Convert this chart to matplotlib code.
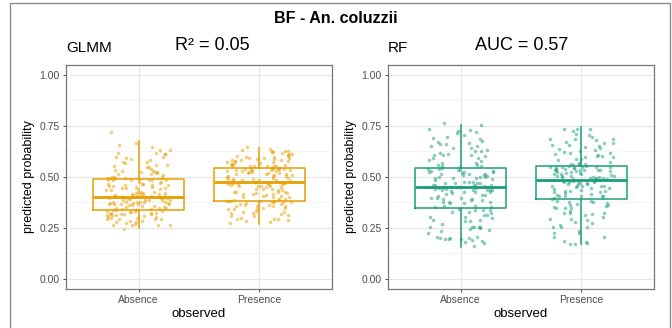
import matplotlib
matplotlib.use("Agg")
import matplotlib.pyplot as plt
from matplotlib.patches import Rectangle
import numpy as np

plt.rcParams["font.family"] = ["Liberation Sans", "DejaVu Sans"]

categories = ["Absence", "Presence"]

# box statistics: whislo, q1, med, q3, whishi
glmm_box = [[0.25, 0.337, 0.40, 0.487, 0.673],
            [0.267, 0.383, 0.474, 0.541, 0.642]]
rf_box = [[0.155, 0.346, 0.448, 0.541, 0.756],
          [0.17, 0.391, 0.486, 0.554, 0.745]]

glmm_absence = [
    0.25, 0.26, 0.26, 0.27, 0.27, 0.27, 0.28, 0.28, 0.28, 0.28,
    0.29, 0.29, 0.29, 0.29, 0.30, 0.30, 0.30, 0.30, 0.30, 0.31,
    0.31, 0.31, 0.31, 0.31, 0.32, 0.32, 0.32, 0.32, 0.32, 0.32,
    0.33, 0.33, 0.33, 0.33, 0.33, 0.33, 0.34, 0.34, 0.34, 0.34,
    0.34, 0.35, 0.35, 0.35, 0.35, 0.35, 0.36, 0.36, 0.36, 0.36,
    0.36, 0.37, 0.37, 0.37, 0.37, 0.37, 0.37, 0.38, 0.38, 0.38,
    0.38, 0.38, 0.38, 0.38, 0.39, 0.39, 0.39, 0.39, 0.39, 0.39,
    0.39, 0.40, 0.40, 0.40, 0.40, 0.40, 0.40, 0.40, 0.40, 0.40,
    0.41, 0.41, 0.41, 0.41, 0.41, 0.42, 0.42, 0.42, 0.42, 0.42,
    0.43, 0.43, 0.43, 0.43, 0.44, 0.44, 0.44, 0.44, 0.45, 0.45,
    0.45, 0.45, 0.46, 0.46, 0.46, 0.46, 0.47, 0.47, 0.47, 0.47,
    0.47, 0.48, 0.48, 0.48, 0.48, 0.48, 0.48, 0.49, 0.49, 0.49,
    0.49, 0.49, 0.50, 0.50, 0.50, 0.50, 0.51, 0.51, 0.51, 0.52,
    0.52, 0.52, 0.53, 0.53, 0.53, 0.54, 0.54, 0.55, 0.55, 0.55,
    0.56, 0.56, 0.57, 0.57, 0.58, 0.58, 0.59, 0.59, 0.60, 0.60,
    0.61, 0.61, 0.62, 0.62, 0.63, 0.63, 0.64, 0.66, 0.67, 0.72,
]
glmm_presence = [
    0.27, 0.28, 0.28, 0.29, 0.29, 0.30, 0.30, 0.30, 0.31, 0.31,
    0.31, 0.32, 0.32, 0.32, 0.33, 0.33, 0.33, 0.34, 0.34, 0.34,
    0.35, 0.35, 0.35, 0.35, 0.36, 0.36, 0.36, 0.36, 0.37, 0.37,
    0.37, 0.37, 0.37, 0.38, 0.38, 0.38, 0.38, 0.38, 0.38, 0.38,
    0.39, 0.39, 0.39, 0.39, 0.40, 0.40, 0.40, 0.40, 0.41, 0.41,
    0.41, 0.41, 0.42, 0.42, 0.42, 0.42, 0.43, 0.43, 0.43, 0.43,
    0.44, 0.44, 0.44, 0.44, 0.45, 0.45, 0.45, 0.45, 0.46, 0.46,
    0.46, 0.46, 0.46, 0.47, 0.47, 0.47, 0.47, 0.47, 0.47, 0.47,
    0.48, 0.48, 0.48, 0.48, 0.48, 0.49, 0.49, 0.49, 0.49, 0.49,
    0.50, 0.50, 0.50, 0.50, 0.50, 0.51, 0.51, 0.51, 0.51, 0.51,
    0.52, 0.52, 0.52, 0.52, 0.52, 0.53, 0.53, 0.53, 0.53, 0.53,
    0.53, 0.54, 0.54, 0.54, 0.54, 0.54, 0.54, 0.54, 0.54, 0.54,
    0.55, 0.55, 0.55, 0.55, 0.55, 0.56, 0.56, 0.56, 0.56, 0.56,
    0.57, 0.57, 0.57, 0.57, 0.58, 0.58, 0.58, 0.58, 0.58, 0.59,
    0.59, 0.59, 0.59, 0.59, 0.60, 0.60, 0.60, 0.60, 0.61, 0.61,
    0.61, 0.61, 0.62, 0.62, 0.62, 0.62, 0.63, 0.63, 0.63, 0.64,
]
rf_absence = [
    0.16, 0.17, 0.18, 0.18, 0.19, 0.19, 0.19, 0.20, 0.20, 0.20,
    0.20, 0.20, 0.21, 0.22, 0.23, 0.24, 0.25, 0.25, 0.25, 0.25,
    0.25, 0.26, 0.26, 0.27, 0.28, 0.28, 0.29, 0.29, 0.30, 0.30,
    0.31, 0.31, 0.32, 0.32, 0.33, 0.33, 0.33, 0.34, 0.34, 0.34,
    0.35, 0.35, 0.36, 0.36, 0.37, 0.37, 0.37, 0.38, 0.38, 0.38,
    0.39, 0.39, 0.39, 0.40, 0.40, 0.40, 0.41, 0.41, 0.41, 0.42,
    0.42, 0.42, 0.42, 0.43, 0.43, 0.43, 0.43, 0.44, 0.44, 0.44,
    0.44, 0.44, 0.45, 0.45, 0.45, 0.45, 0.45, 0.45, 0.45, 0.45,
    0.45, 0.45, 0.45, 0.46, 0.46, 0.46, 0.46, 0.46, 0.47, 0.47,
    0.47, 0.47, 0.48, 0.48, 0.48, 0.48, 0.49, 0.49, 0.49, 0.49,
    0.50, 0.50, 0.50, 0.50, 0.51, 0.51, 0.51, 0.51, 0.52, 0.52,
    0.52, 0.52, 0.53, 0.53, 0.53, 0.53, 0.54, 0.54, 0.54, 0.54,
    0.55, 0.55, 0.55, 0.56, 0.56, 0.57, 0.57, 0.58, 0.58, 0.59,
    0.59, 0.60, 0.60, 0.61, 0.61, 0.61, 0.62, 0.62, 0.63, 0.63,
    0.64, 0.64, 0.65, 0.65, 0.66, 0.66, 0.67, 0.67, 0.68, 0.68,
    0.69, 0.70, 0.70, 0.71, 0.72, 0.72, 0.73, 0.74, 0.75, 0.76,
]
rf_presence = [
    0.17, 0.17, 0.18, 0.18, 0.19, 0.20, 0.21, 0.22, 0.23, 0.24,
    0.25, 0.25, 0.25, 0.26, 0.27, 0.28, 0.29, 0.29, 0.30, 0.30,
    0.31, 0.31, 0.32, 0.32, 0.33, 0.33, 0.34, 0.34, 0.35, 0.35,
    0.36, 0.36, 0.36, 0.37, 0.37, 0.37, 0.38, 0.38, 0.38, 0.39,
    0.39, 0.40, 0.40, 0.40, 0.41, 0.41, 0.41, 0.42, 0.42, 0.42,
    0.43, 0.43, 0.43, 0.43, 0.44, 0.44, 0.44, 0.44, 0.45, 0.45,
    0.45, 0.45, 0.46, 0.46, 0.46, 0.46, 0.47, 0.47, 0.47, 0.47,
    0.47, 0.48, 0.48, 0.48, 0.48, 0.48, 0.48, 0.49, 0.49, 0.49,
    0.49, 0.49, 0.49, 0.49, 0.50, 0.50, 0.50, 0.50, 0.50, 0.50,
    0.51, 0.51, 0.51, 0.51, 0.51, 0.52, 0.52, 0.52, 0.52, 0.52,
    0.53, 0.53, 0.53, 0.53, 0.53, 0.54, 0.54, 0.54, 0.54, 0.54,
    0.54, 0.55, 0.55, 0.55, 0.55, 0.55, 0.55, 0.55, 0.55, 0.55,
    0.56, 0.56, 0.56, 0.57, 0.57, 0.57, 0.58, 0.58, 0.59, 0.59,
    0.60, 0.60, 0.60, 0.61, 0.61, 0.62, 0.62, 0.62, 0.63, 0.63,
    0.64, 0.64, 0.65, 0.65, 0.65, 0.66, 0.66, 0.67, 0.67, 0.68,
    0.68, 0.69, 0.69, 0.70, 0.70, 0.71, 0.72, 0.73, 0.74, 0.74,
]

panels = [
    ("GLMM", "R\u00b2 = 0.05", glmm_box, [glmm_absence, glmm_presence], "#E69F00"),
    ("RF", "AUC = 0.57", rf_box, [rf_absence, rf_presence], "#1B9E77"),
]


def spread(idx, seed):
    # deterministic jitter in [-0.5, 0.5)
    h = np.sin(idx * 12.9898 + seed * 78.233) * 43758.5453
    return h % 1.0 - 0.5


fig = plt.figure(figsize=(6.72, 3.28), dpi=100)
fig.patches.append(Rectangle((10 / 672, -0.1), 660 / 672, 1.1 - 3 / 328,
                             transform=fig.transFigure, fill=False,
                             edgecolor="#8a8a8a", linewidth=1.0))
fig.text(0.5, 0.943, "BF - An. coluzzii", ha="center", va="center",
         fontsize=11.5, fontweight="bold")

lefts = [66 / 672, 388 / 672]
stat_x = [212 / 672, 522 / 672]
for k, (left, (name, stat, boxes, points, color)) in enumerate(zip(lefts, panels)):
    ax = fig.add_axes([left, 39 / 328, 266 / 672, 224.5 / 328])

    stats = []
    for b in boxes:
        stats.append(dict(whislo=b[0], q1=b[1], med=b[2], q3=b[3], whishi=b[4],
                          fliers=[]))
    ax.bxp(stats, positions=[1, 2], widths=0.75, showcaps=False,
           manage_ticks=False,
           boxprops=dict(color=color, linewidth=1.1),
           whiskerprops=dict(color=color, linewidth=1.1),
           medianprops=dict(color=color, linewidth=2.0), zorder=2)

    for pos, vals in enumerate(points, start=1):
        vals = np.asarray(vals)
        idx = np.arange(len(vals)) + 1000 * pos + 5000 * k
        xoff = spread(idx, 1) * 0.54
        yoff = spread(idx, 2) * 0.012
        ax.scatter(pos + xoff, vals + yoff, s=6.5, color=color, alpha=0.5,
                   linewidths=0, zorder=3)

    ax.set_xlim(0.4, 2.6)
    ax.set_ylim(-0.05, 1.05)
    ax.set_yticks([0, 0.25, 0.5, 0.75, 1.0])
    ax.set_yticks([0.125, 0.375, 0.625, 0.875], minor=True)
    ax.set_xticks([1, 2])
    ax.set_xticklabels(categories)
    ax.grid(True, which="major", color="#e6e6e6", linewidth=0.8)
    ax.grid(True, which="minor", axis="y", color="#f2f2f2", linewidth=0.6)
    ax.set_axisbelow(True)
    for s in ax.spines.values():
        s.set_color("#777777")
        s.set_linewidth(0.9)
    ax.tick_params(axis="both", which="major", colors="#4d4d4d",
                   labelsize=7.5, length=2.5, width=0.7, pad=2)
    ax.tick_params(axis="y", which="minor", length=0)
    ax.yaxis.set_major_formatter(plt.FuncFormatter(lambda v, p: f"{v:.2f}"))
    ax.set_ylabel("predicted probability", fontsize=9, labelpad=3)
    ax.set_xlabel("observed", fontsize=9.5, labelpad=2)

    fig.text(left, 0.853, name, ha="left", va="center", fontsize=11)
    fig.text(stat_x[k], 0.862, stat, ha="center", va="center", fontsize=13)

fig.savefig("out.png", dpi=100)
